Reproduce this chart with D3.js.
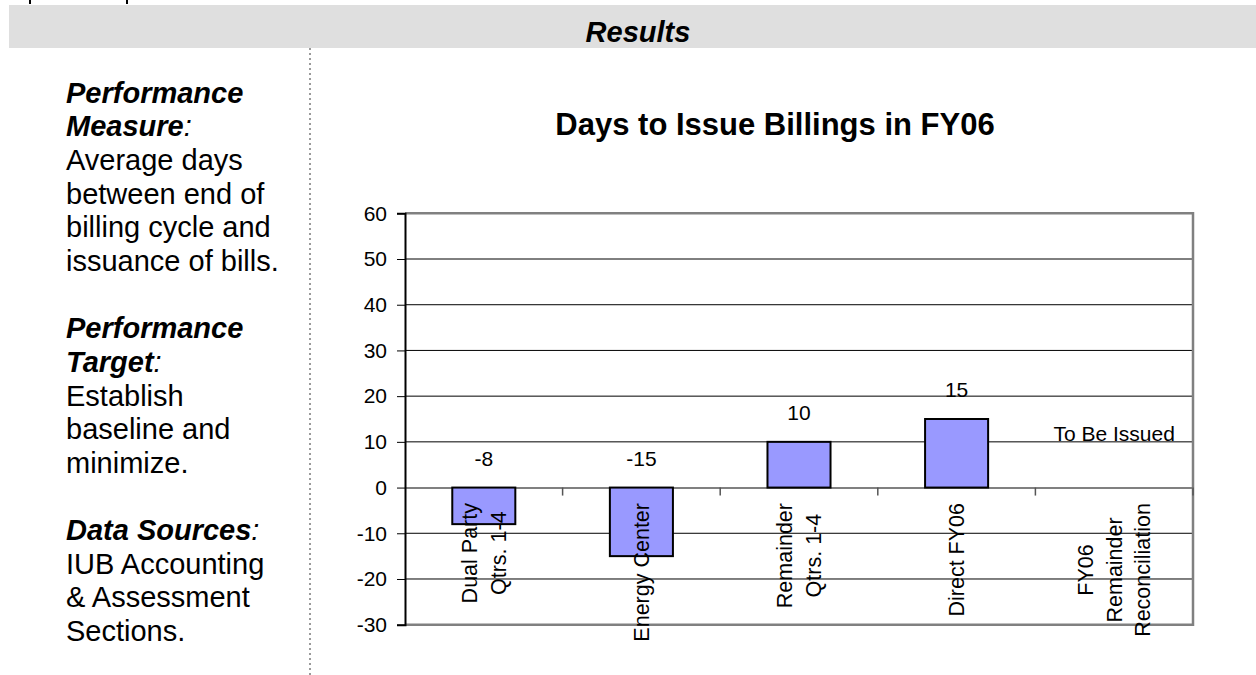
<!DOCTYPE html>
<html>
<head>
<meta charset="utf-8">
<script src="https://cdn.jsdelivr.net/npm/d3@7"></script>
<style>
  body { margin: 0; background: #fff; }
  svg { display: block; font-family: "Liberation Sans", Arial, sans-serif; }
</style>
</head>
<body>
<div id="root"></div>
<script>
// chart data
const categories = ["Dual Party|Qtrs. 1-4", "Energy Center", "Remainder|Qtrs. 1-4", "Direct FY06", "FY06|Remainder|Reconciliation"];
const values = [-8, -15, 10, 15, null];
const pendingLabel = "To Be Issued";
const yTicks = [-30, -20, -10, 0, 10, 20, 30, 40, 50, 60];
const chartTitle = "Days to Issue Billings in FY06";

// side panel text, one entry per line ("" = blank line)
const sideLines = [
  {t: "Performance", b: true}, {t: "Measure", b: true, colon: true},
  {t: "Average days"}, {t: "between end of"}, {t: "billing cycle and"}, {t: "issuance of bills."},
  {t: ""},
  {t: "Performance", b: true}, {t: "Target", b: true, colon: true},
  {t: "Establish"}, {t: "baseline and"}, {t: "minimize."},
  {t: ""},
  {t: "Data Sources", b: true, colon: true},
  {t: "IUB Accounting"}, {t: "& Assessment"}, {t: "Sections."}
];

const width = 1256, height = 675;
const svg = d3.select("#root").append("svg").attr("width", width).attr("height", height);

// cut off line of the page above (only descenders show)
svg.selectAll(".stub").data([30, 127]).enter().append("rect")
  .attr("x", d => d - 1).attr("y", 0).attr("width", 2).attr("height", 4).attr("fill", "#000");

// header band
svg.append("rect").attr("x", 9).attr("y", 5).attr("width", width - 9).attr("height", 43).attr("fill", "#dfdfdf");
svg.append("text").attr("x", 638).attr("y", 41.5).attr("text-anchor", "middle")
  .style("font-size", "29px").style("font-weight", "bold").style("font-style", "italic")
  .text("Results");

// dotted divider
svg.append("line").attr("x1", 310).attr("x2", 310).attr("y1", 48).attr("y2", height)
  .attr("stroke", "#9a9a9a").attr("stroke-width", 2).attr("stroke-dasharray", "2,3");

// side panel
const side = svg.append("text").style("font-size", "29px");
sideLines.forEach((l, i) => {
  if (!l.t) return;
  side.append("tspan").attr("x", 66).attr("y", 102.7 + i * 33.65)
    .style("font-weight", l.b ? "bold" : "normal").style("font-style", l.b ? "italic" : "normal")
    .text(l.t);
  if (l.colon) side.append("tspan").style("font-style", "italic").text(":");
});

// chart
const plot = {left: 405, right: 1193, top: 213.3, bottom: 624.7};
const x = d3.scaleBand().domain(categories).range([plot.left, plot.right]).padding(0);
const y = d3.scaleLinear().domain([-30, 60]).range([plot.bottom, plot.top]);

svg.append("text").attr("x", 775).attr("y", 135).attr("text-anchor", "middle")
  .style("font-size", "31px").style("font-weight", "bold").text(chartTitle);

const g = svg.append("g");

// gridlines
g.selectAll(".grid").data(yTicks.filter(t => t !== 0 && t !== -30 && t !== 60)).enter().append("line")
  .attr("x1", plot.left).attr("x2", plot.right)
  .attr("y1", d => y(d)).attr("y2", d => y(d))
  .attr("stroke", "#000").attr("stroke-width", 1);

// plot border
g.append("path")
  .attr("d", `M${plot.left},${y(60)}H${plot.right}V${y(-30)}H${plot.left}`)
  .attr("fill", "none").attr("stroke", "#808080").attr("stroke-width", 2.5);

// zero axis with category ticks
const xAxis = g.append("g").attr("transform", `translate(0,${y(0)})`)
  .call(d3.axisBottom(x).tickSize(0).tickFormat(""));
xAxis.select(".domain").attr("stroke", "#808080").attr("stroke-width", 2);
g.selectAll(".xtick").data(categories).enter().append("line")
  .attr("x1", d => x(d) + x.bandwidth()).attr("x2", d => x(d) + x.bandwidth())
  .attr("y1", y(0)).attr("y2", y(0) + 8)
  .attr("stroke", "#555").attr("stroke-width", 1.5);

// y axis (plain hyphen for negatives)
const yAxis = g.append("g").attr("transform", `translate(${plot.left},0)`)
  .call(d3.axisLeft(y).tickValues(yTicks).tickSize(8).tickPadding(10).tickFormat(d => String(d)));
yAxis.select(".domain").attr("stroke", "#000").attr("stroke-width", 2);
yAxis.selectAll(".tick line").attr("stroke", "#000").attr("stroke-width", 1);
yAxis.selectAll("text").style("font-size", "21px").attr("fill", "#000")
  .style("font-family", "'Liberation Sans', Arial, sans-serif");

// bars
const barW = x.bandwidth() * 0.4;
const rows = categories.map((c, i) => ({c, v: values[i]}));
g.selectAll(".bar").data(rows.filter(d => d.v !== null)).enter().append("rect")
  .attr("class", "bar")
  .attr("x", d => x(d.c) + (x.bandwidth() - barW) / 2)
  .attr("y", d => y(Math.max(d.v, 0)))
  .attr("width", barW)
  .attr("height", d => Math.abs(y(d.v) - y(0)))
  .attr("fill", "#9999ff").attr("stroke", "#000").attr("stroke-width", 2);

// value labels
g.selectAll(".val").data(rows).enter().append("text")
  .attr("x", d => x(d.c) + x.bandwidth() / 2)
  .attr("y", d => d.v === null ? y(0) - 47 : y(Math.max(d.v, 0)) - 22)
  .attr("text-anchor", "middle").style("font-size", "21px")
  .text(d => d.v === null ? pendingLabel : d.v);

// rotated category labels, top of block at fixed line
const catG = g.selectAll(".cat").data(categories).enter().append("g")
  .attr("transform", d => `translate(${x(d) + x.bandwidth() / 2},503) rotate(-90)`);
catG.each(function(d) {
  const lines = d.split("|");
  const sel = d3.select(this);
  const texts = lines.map((l, i) => sel.append("text")
    .attr("y", (i - (lines.length - 1) / 2) * 28.5).attr("dy", "0.35em")
    .attr("text-anchor", "middle").style("font-size", "21.5px").text(l));
  const maxLen = d3.max(texts, t => t.node().getComputedTextLength());
  texts.forEach(t => t.attr("x", -maxLen / 2));
});
</script>
</body>
</html>
